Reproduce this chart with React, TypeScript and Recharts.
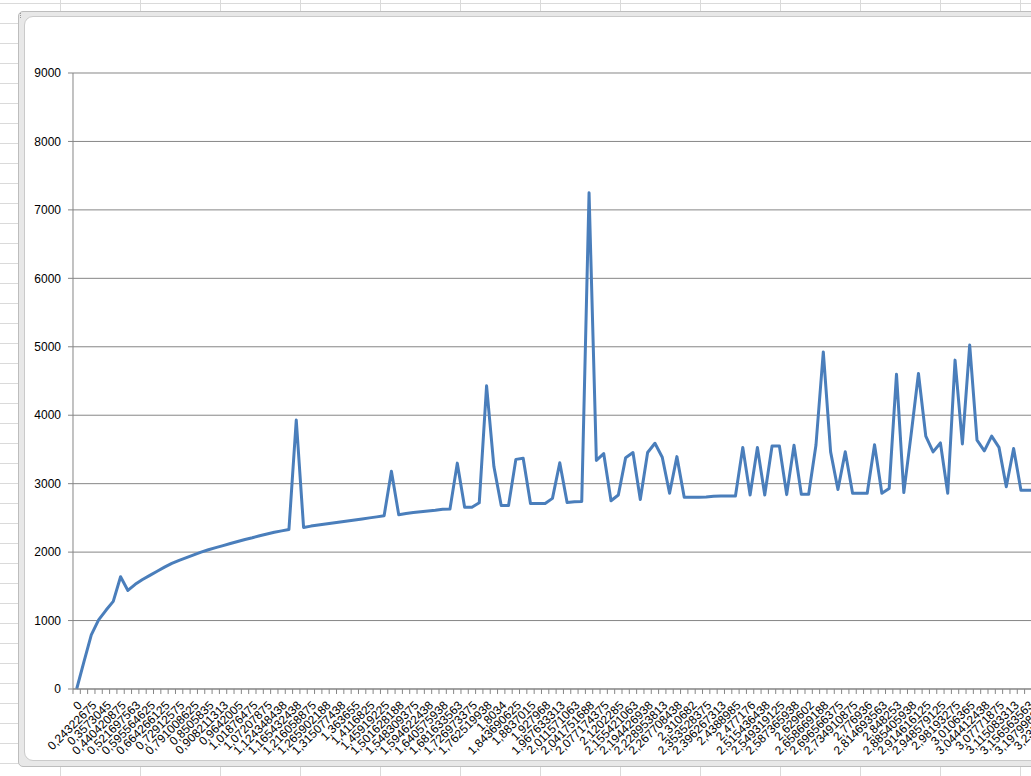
import { LineChart, Line, XAxis, YAxis, CartesianGrid } from "recharts";

// category labels, one for every second category (Excel hides the odd ones)
const LABELS = [
  "0", "0,24322675", "0,3573045", "0,440420875", "0,521697563", "0,595564625",
  "0,664266125", "0,72912575", "0,791008625", "0,8505835", "0,908211313", "0,9642005",
  "1,01876475", "1,07207875", "1,124348438", "1,165432438", "1,216058875", "1,265902188",
  "1,315077438", "1,363655", "1,4116825", "1,45919225", "1,501628188", "1,548309375",
  "1,594622438", "1,640575938", "1,681633563", "1,726973375", "1,762519938", "1,8034",
  "1,843690625", "1,8837015", "1,927968", "1,967633313", "2,011571063", "2,041751688",
  "2,077174375", "2,1202285", "2,155421063", "2,194426938", "2,228953813", "2,267708438",
  "2,310682", "2,353528375", "2,396267313", "2,4388985", "2,477176", "2,515436438",
  "2,549319125", "2,587365938", "2,629602", "2,658669188", "2,696566375", "2,734910875",
  "2,776936", "2,814693563", "2,848253", "2,885405938", "2,914616125", "2,948579125",
  "2,98193275", "3,0106365", "3,044412438", "3,07771875", "3,115083313", "3,156563563",
  "3,197998313", "3,23525375",
];

const VALUES = [
  0, 400, 790, 1010, 1150, 1280, 1640, 1440, 1530, 1600,
  1660, 1720, 1780, 1835, 1880, 1920, 1960, 2000, 2035, 2065,
  2095, 2125, 2155, 2185, 2210, 2240, 2265, 2290, 2310, 2330,
  3930, 2360, 2380, 2395, 2410, 2425, 2440, 2455, 2470, 2485,
  2500, 2515, 2530, 3180, 2545, 2565, 2580, 2590, 2600, 2610,
  2625, 2630, 3300, 2655, 2655, 2720, 4430, 3250, 2680, 2680,
  3355, 3370, 2710, 2710, 2710, 2785, 3305, 2725, 2735, 2740,
  7250, 3340, 3440, 2750, 2835, 3380, 3455, 2770, 3455, 3590,
  3385, 2860, 3395, 2800, 2800, 2800, 2805, 2815, 2820, 2820,
  2820, 3530, 2835, 3530, 2835, 3550, 3550, 2840, 3560, 2845,
  2845, 3565, 4925, 3465, 2915, 3465, 2860, 2860, 2860, 3570,
  2860, 2930, 4600, 2870, 3720, 4610, 3695, 3465, 3595, 2860,
  4805, 3580, 5025, 3635, 3480, 3695, 3530, 2955, 3515, 2905,
  2905, 2905, 2905, 2905, 2905, 2905,
];

const Y_TICKS = [0, 1000, 2000, 3000, 4000, 5000, 6000, 7000, 8000, 9000];

const data = VALUES.map((v, i) => ({ idx: i, v }));

const STEP = 7.32;
const AXIS = "#868686";
const FONT = "'Liberation Sans', Arial, sans-serif";

function XTick(props: any) {
  const { x, y, payload } = props;
  const i = Number(payload.value);
  const ty = y + 11;
  return (
    <g>
      <line x1={x - STEP / 2} x2={x - STEP / 2} y1={y} y2={y + 5} stroke={AXIS} />
      {i % 2 === 0 && LABELS[i / 2] !== undefined && (
        <text
          x={x}
          y={ty}
          dy="0.71em"
          textAnchor="end"
          transform={`rotate(-45 ${x} ${ty})`}
          fontSize={12}
          fill="#000"
          fontFamily={FONT}
        >
          {LABELS[i / 2]}
        </text>
      )}
    </g>
  );
}

export default function App() {
  const plotW = VALUES.length * STEP;
  return (
    <div
      style={{
        position: "absolute", left: 0, top: 0, width: 1031, height: 776, overflow: "hidden",
        backgroundColor: "#fff",
        backgroundImage:
          "linear-gradient(to right, #dadada 1px, transparent 1px), linear-gradient(to bottom, #dadada 1px, transparent 1px)",
        backgroundSize: "80px 20px",
        backgroundPosition: "60px 3px",
      }}
    >
      {/* chart frame */}
      <div style={{
        position: "absolute", left: 18, top: 11, width: 1100, height: 754,
        border: "1px solid #bdbdbd", borderRadius: 5, background: "#e8e8e8",
      }} />
      <div style={{
        position: "absolute", left: 24, top: 16, width: 1100, height: 743,
        border: "1px solid #cacaca", borderRadius: 9, background: "#fff",
      }} />
      <div style={{ position: "absolute", left: 20, top: 13, width: 3, height: 5, borderLeft: "1px dotted #999" }} />

      <div style={{ position: "absolute", left: 0, top: 0 }}>
        <LineChart
          width={73 + plotW}
          height={779}
          data={data}
          margin={{ top: 73, right: 0, left: 0, bottom: 0 }}
          style={{ fontFamily: FONT }}
        >
          <CartesianGrid vertical={false} stroke={AXIS} strokeWidth={1} />
          <XAxis
            dataKey="idx"
            type="category"
            interval={0}
            height={90}
            padding={{ left: STEP / 2, right: STEP / 2 }}
            axisLine={{ stroke: AXIS }}
            tickLine={false}
            tickSize={0}
            tickMargin={0}
            tick={<XTick />}
          />
          <YAxis
            domain={[0, 9000]}
            ticks={Y_TICKS}
            width={73}
            tickSize={5}
            tickMargin={7}
            axisLine={{ stroke: AXIS }}
            tickLine={{ stroke: AXIS }}
            tick={{ fill: "#000", fontSize: 12, fontFamily: FONT }}
          />
          <Line
            type="linear"
            dataKey="v"
            stroke="#4A7EBB"
            strokeWidth={3}
            strokeLinejoin="round"
            dot={false}
            isAnimationActive={false}
          />
        </LineChart>
      </div>
    </div>
  );
}
